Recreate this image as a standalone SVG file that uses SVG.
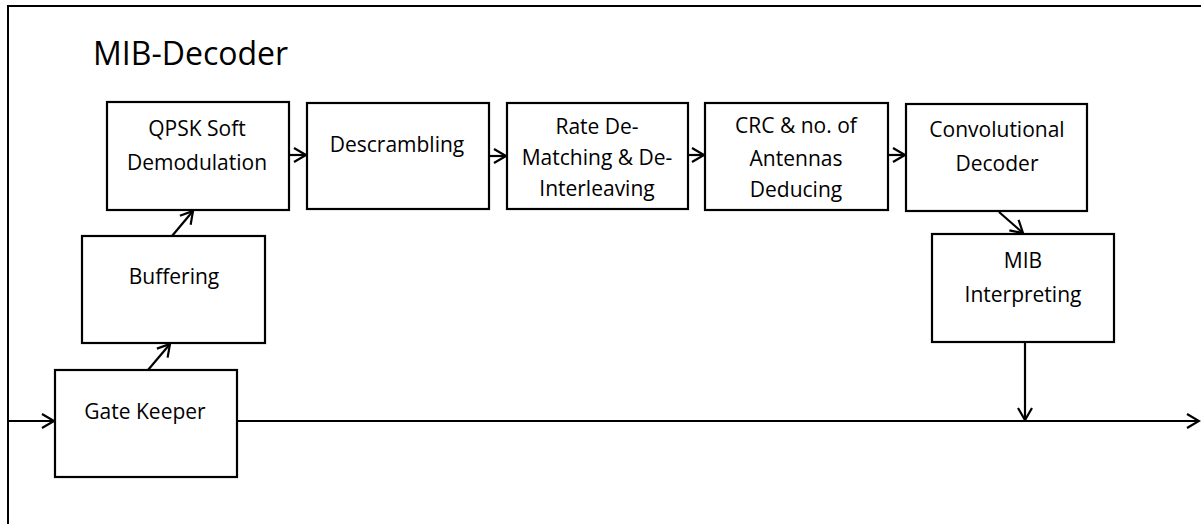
<svg xmlns="http://www.w3.org/2000/svg" width="1201" height="524" viewBox="0 0 1201 524">
<style>
.box{fill:#fff;stroke:#000;stroke-width:2.2}
.t{font-family:"Open Sans","Liberation Sans",sans-serif;font-size:21px;fill:#000;text-anchor:middle}
.c{fill:none;stroke:#000;stroke-width:2.2}
</style>
<defs>
<marker id="ah" markerUnits="userSpaceOnUse" markerWidth="18" markerHeight="18" refX="13" refY="8" orient="auto" viewBox="0 0 18 16">
<path d="M1,1 L13,8 L1,15" fill="none" stroke="#000" stroke-width="2.2"/>
</marker>
</defs>
<rect width="1201" height="524" fill="#fff"/>
<path d="M8,524 V6 H1201" fill="none" stroke="#000" stroke-width="2"/>
<text x="93" y="65" font-family="'Open Sans','Liberation Sans',sans-serif" font-size="32" fill="#000">MIB-Decoder</text>
<g id="connectors">
<line class="c" x1="8" y1="421" x2="54" y2="421" marker-end="url(#ah)"/>
<line class="c" x1="148" y1="370" x2="170" y2="344" marker-end="url(#ah)"/>
<line class="c" x1="172" y1="236" x2="193" y2="211" marker-end="url(#ah)"/>
<line class="c" x1="289" y1="155" x2="306" y2="155" marker-end="url(#ah)"/>
<line class="c" x1="489" y1="156" x2="506" y2="156" marker-end="url(#ah)"/>
<line class="c" x1="688" y1="155" x2="704" y2="155" marker-end="url(#ah)"/>
<line class="c" x1="888" y1="155" x2="905" y2="155" marker-end="url(#ah)"/>
<line class="c" x1="999" y1="212" x2="1023" y2="233" marker-end="url(#ah)"/>
<line class="c" x1="1025" y1="342" x2="1025" y2="420" marker-end="url(#ah)"/>
<line class="c" x1="237" y1="421" x2="1199" y2="421" marker-end="url(#ah)"/>
</g>
<g id="qpsk"><rect class="box" x="107" y="102" width="182" height="108"/>
<text class="t" x="197" y="136">QPSK Soft</text><text class="t" x="197" y="170">Demodulation</text></g>
<g id="descrambling"><rect class="box" x="307" y="103" width="182" height="106"/>
<text class="t" x="397" y="152">Descrambling</text></g>
<g id="ratematching"><rect class="box" x="507" y="103" width="181" height="106"/>
<text class="t" x="597" y="134">Rate De-</text><text class="t" x="597" y="165">Matching &amp; De-</text><text class="t" x="597" y="196">Interleaving</text></g>
<g id="crc"><rect class="box" x="705" y="103" width="183" height="107"/>
<text class="t" x="796" y="133">CRC &amp; no. of</text><text class="t" x="796" y="166">Antennas</text><text class="t" x="796" y="197">Deducing</text></g>
<g id="conv"><rect class="box" x="906" y="104" width="181" height="107"/>
<text class="t" x="997" y="137">Convolutional</text><text class="t" x="997" y="171">Decoder</text></g>
<g id="mib"><rect class="box" x="932" y="234" width="182" height="108"/>
<text class="t" x="1023" y="268">MIB</text><text class="t" x="1023" y="302">Interpreting</text></g>
<g id="buffering"><rect class="box" x="82" y="236" width="183" height="107"/>
<text class="t" x="174" y="284">Buffering</text></g>
<g id="gatekeeper"><rect class="box" x="55" y="370" width="182" height="107"/>
<text class="t" x="145" y="419">Gate Keeper</text></g>
</svg>
